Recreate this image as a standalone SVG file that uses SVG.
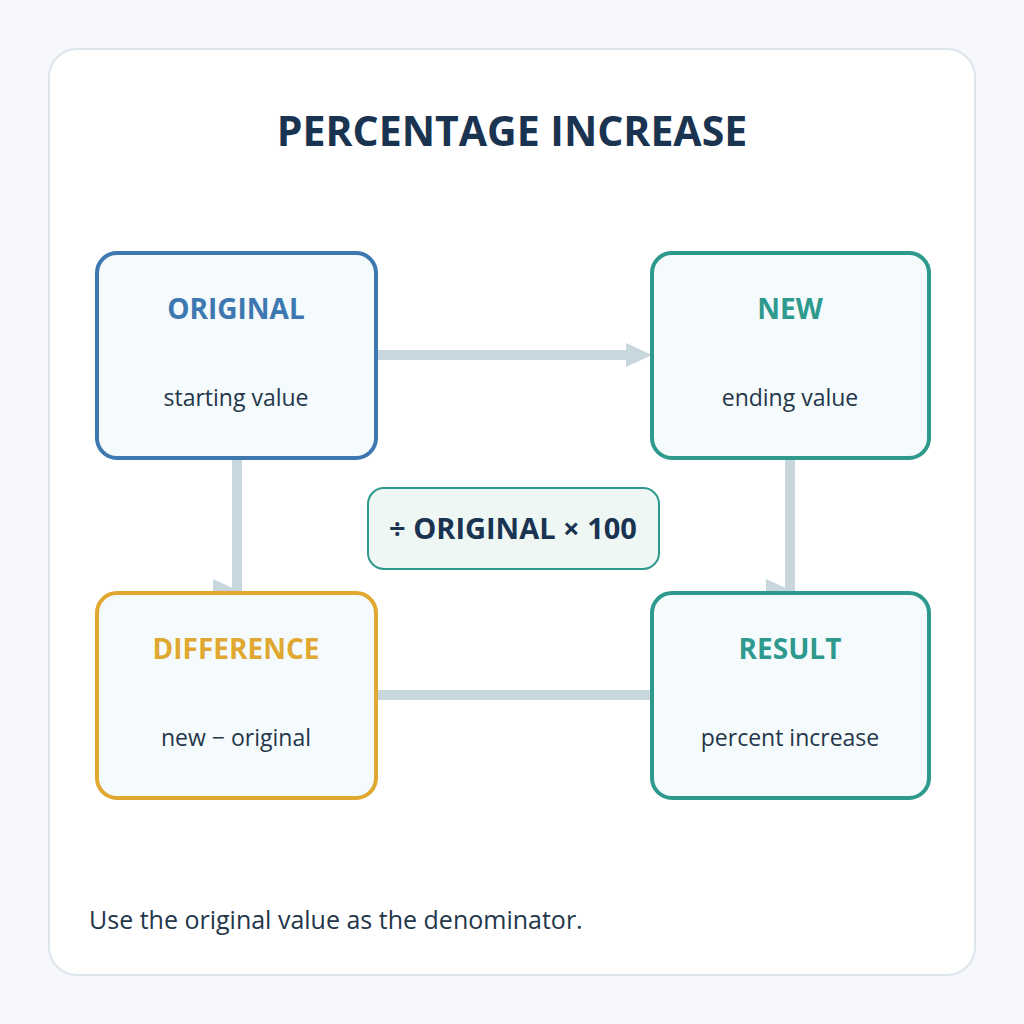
<svg xmlns="http://www.w3.org/2000/svg" width="1024" height="1024" viewBox="0 0 1024 1024">
<style>
.node{fill:#f5fafc;stroke-width:4}
.ttl{font-family:"Open Sans","Noto Sans","Liberation Sans",sans-serif;font-weight:700;font-size:28px;text-anchor:middle}
.sub{font-family:"Open Sans","Noto Sans","Liberation Sans",sans-serif;font-size:23px;fill:#24364a;text-anchor:middle}
.conn{stroke:#c8d6de;stroke-width:10;fill:none}
.head{fill:#c8d6de}
</style>
<rect x="0" y="0" width="1024" height="1024" fill="#f6f8fb"/>
<rect x="49" y="49" width="926" height="926" rx="28" fill="#ffffff" stroke="#dde5ea" stroke-width="2"/>
<text x="512" y="146" font-family="'Open Sans','Noto Sans','Liberation Sans',sans-serif" font-weight="700" font-size="41" fill="#1a3350" text-anchor="middle">PERCENTAGE INCREASE</text>
<g id="connectors">
<line class="conn" x1="378" y1="355" x2="630" y2="355"/>
<polygon class="head" points="626,343 626,367 652,355"/>
<line class="conn" x1="237" y1="460" x2="237" y2="592"/>
<polygon class="head" points="213,579 213,603 239,591"/>
<line class="conn" x1="790" y1="460" x2="790" y2="592"/>
<polygon class="head" points="766,579 766,603 792,591"/>
<line class="conn" x1="378" y1="695" x2="652" y2="695"/>
</g>
<g id="node-original">
<rect class="node" x="97" y="253" width="279" height="205" rx="20" stroke="#3d78b0"/>
<text class="ttl" x="236" y="319" fill="#3d78b0">ORIGINAL</text>
<text class="sub" x="236" y="406">starting value</text>
</g>
<g id="node-new">
<rect class="node" x="652" y="253" width="277" height="205" rx="20" stroke="#2e9a8e"/>
<text class="ttl" x="790" y="319" fill="#2e9a8e">NEW</text>
<text class="sub" x="790" y="406">ending value</text>
</g>
<g id="node-difference">
<rect class="node" x="97" y="593" width="279" height="205" rx="20" stroke="#e0a830"/>
<text class="ttl" x="236" y="659" fill="#e0a830">DIFFERENCE</text>
<text class="sub" x="236" y="746">new − original</text>
</g>
<g id="node-result">
<rect class="node" x="652" y="593" width="277" height="205" rx="20" stroke="#2e9a8e"/>
<text class="ttl" x="790" y="659" fill="#2e9a8e">RESULT</text>
<text class="sub" x="790" y="746">percent increase</text>
</g>
<g id="label-formula">
<rect x="368" y="488" width="291" height="81" rx="16" fill="#eef7f4" stroke="#2e9a8e" stroke-width="2"/>
<text x="513" y="539" font-family="'Open Sans','Noto Sans','Liberation Sans',sans-serif" font-weight="700" font-size="29" fill="#1a3350" text-anchor="middle">÷ ORIGINAL × 100</text>
</g>
<text x="89" y="929" font-family="'Open Sans','Noto Sans','Liberation Sans',sans-serif" font-size="25" fill="#24364a">Use the original value as the denominator.</text>
</svg>
